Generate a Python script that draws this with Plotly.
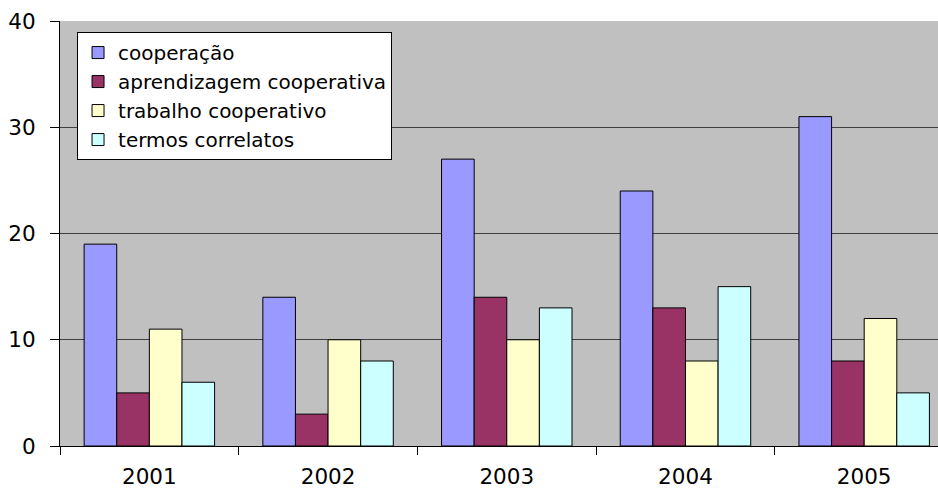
import plotly.graph_objects as go

years = ["2001", "2002", "2003", "2004", "2005"]
series_names = ["cooperação", "aprendizagem cooperativa", "trabalho cooperativo", "termos correlatos"]
cooperacao = [19, 14, 27, 24, 31]
aprendizagem = [5, 3, 14, 13, 8]
trabalho = [11, 10, 10, 8, 12]
termos = [6, 8, 13, 15, 5]
colors = ["#9999FF", "#993366", "#FFFFCC", "#CCFFFF"]
y_ticks = [0, 10, 20, 30, 40]

fig = go.Figure()
for name, vals, col in zip(series_names, [cooperacao, aprendizagem, trabalho, termos], colors):
    fig.add_trace(go.Bar(x=years, y=vals, name=name, marker=dict(color=col, line=dict(color="#000000", width=1))))

FONT = "DejaVu Sans, Arial, sans-serif"
FS = 21.5
fig.update_layout(
    width=938, height=488,
    margin=dict(l=60, r=0, t=21, b=42),
    paper_bgcolor="#FFFFFF",
    plot_bgcolor="#C0C0C0",
    barmode="group",
    bargap=0.27,
    bargroupgap=0,
    font=dict(family=FONT, size=FS, color="#000000"),
    showlegend=True,
    legend=dict(
        x=0.0194, y=0.974, xanchor="left", yanchor="top",
        bgcolor="#FFFFFF", bordercolor="#000000", borderwidth=1,
        font=dict(family=FONT, size=20, color="#000000"),
        traceorder="normal",
    ),
    xaxis=dict(
        type="category",
        range=[-0.5, 4.413],
        showline=True, linecolor="#000000", linewidth=1,
        ticks="outside", tickson="boundaries", ticklen=8, tickcolor="#000000",
        ticklabelstandoff=11,
        showgrid=False,
        tickfont=dict(family=FONT, size=FS),
    ),
    yaxis=dict(
        range=[0, 40], tickvals=y_ticks,
        showline=True, linecolor="#000000", linewidth=1,
        ticks="outside", ticklen=9, tickcolor="#000000",
        ticklabelstandoff=10,
        showgrid=True, gridcolor="#404040", gridwidth=1,
        zeroline=False,
        tickfont=dict(family=FONT, size=FS),
    ),
)

fig.write_html("out.html")
